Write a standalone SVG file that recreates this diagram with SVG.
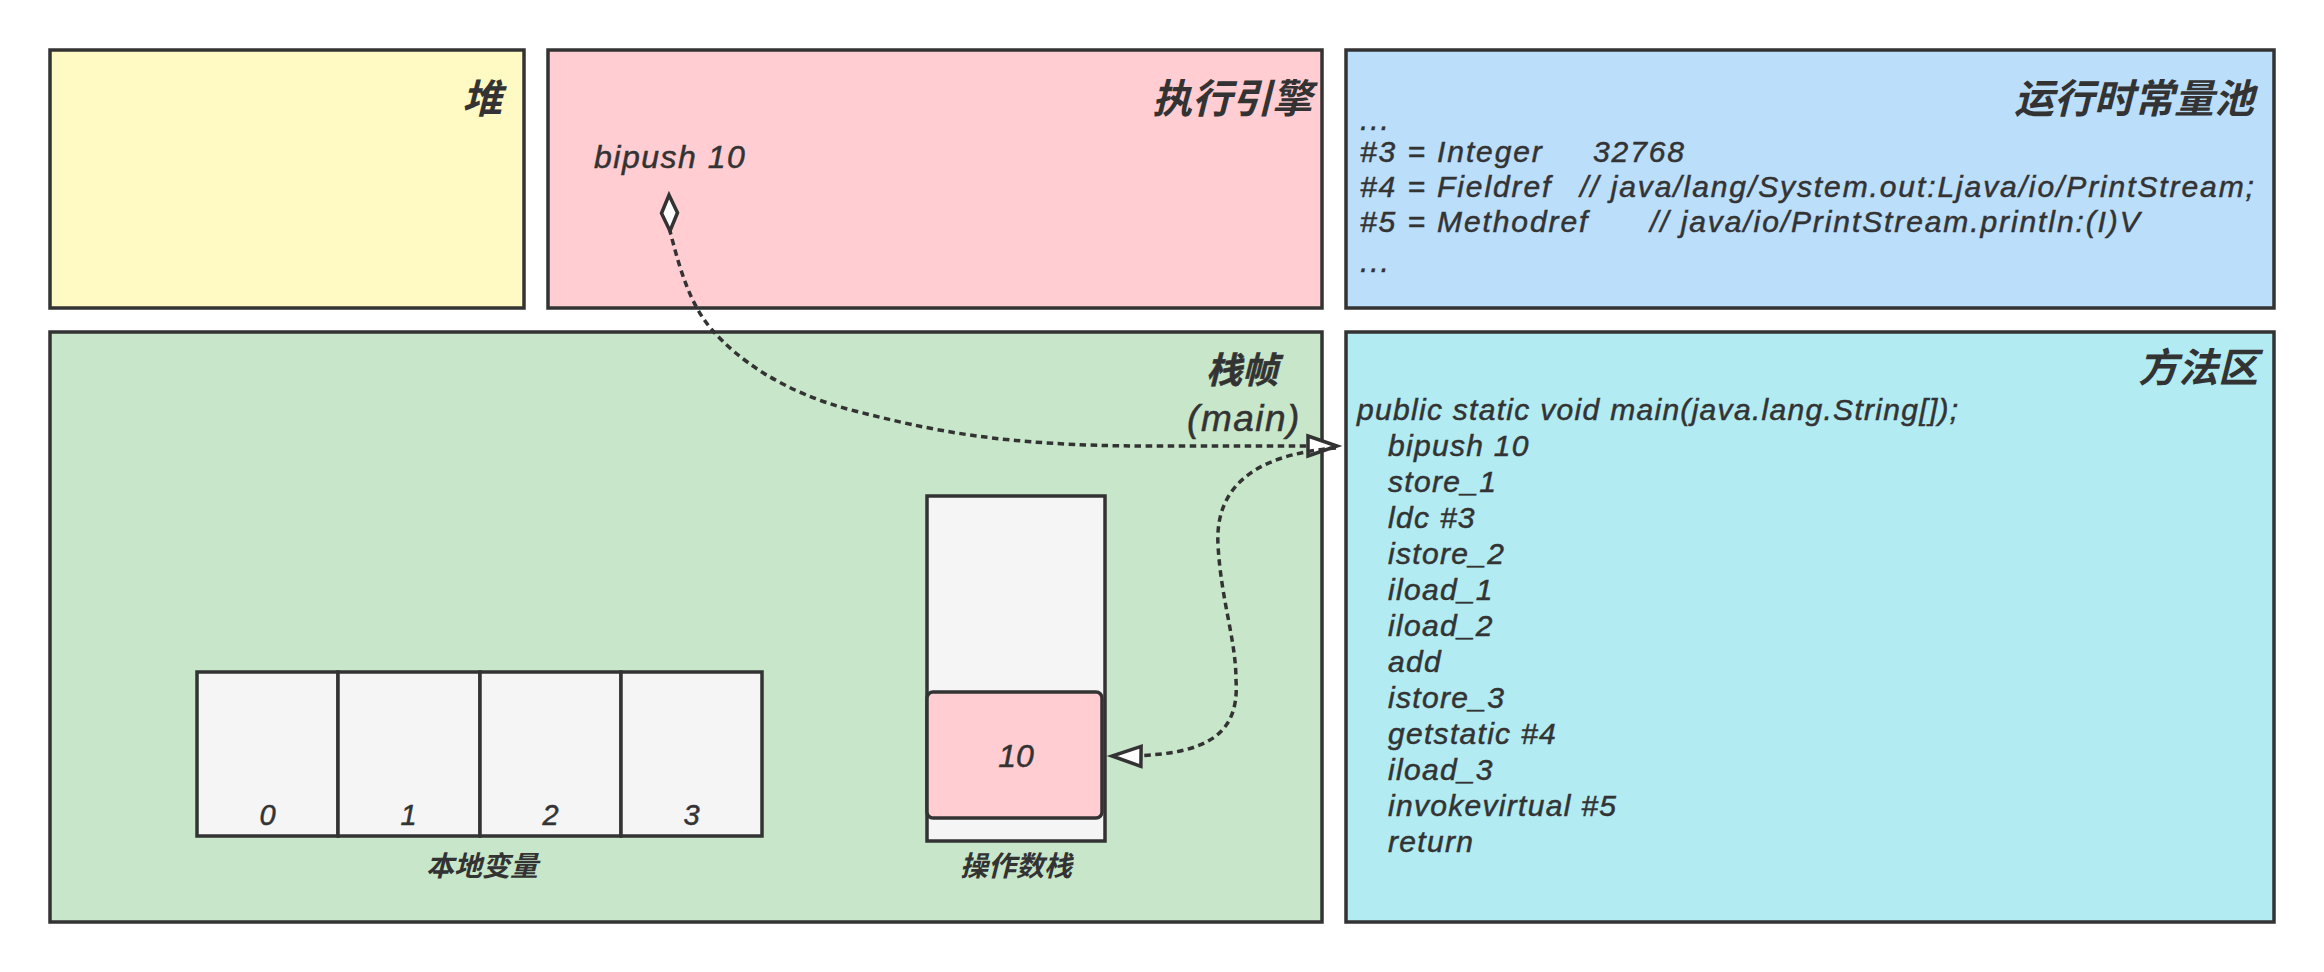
<svg xmlns="http://www.w3.org/2000/svg" width="2324" height="972" viewBox="0 0 2324 972">
  <style>
    .box { stroke: #333333; stroke-width: 3.5; }
    .t { font-family: "Liberation Sans", "Noto Sans CJK SC", sans-serif; font-style: italic; fill: #333333; stroke: #333333; stroke-width: 0.5; }
    .title { font-size: 40px; font-weight: bold; text-anchor: end; stroke-width: 0; }
    .body { font-size: 30px; letter-spacing: 1.3px; }
    .pool { font-size: 30px; letter-spacing: 1.9px; }
    .lbl { font-size: 28px; font-weight: bold; text-anchor: middle; stroke-width: 0; }
    .num { font-size: 29px; text-anchor: middle; letter-spacing: 1px; }
    .conn { fill: none; stroke: #333333; stroke-width: 3.5; stroke-dasharray: 6.5 4.5; }
  </style>
  <defs>
    <marker id="diamond" markerUnits="userSpaceOnUse" markerWidth="40" markerHeight="24" viewBox="-2 -12 40 24" refX="0" refY="0" orient="auto" overflow="visible">
      <path d="M0,0 L18,-8 L36,0 L18,8 Z" fill="#ffffff" stroke="#333333" stroke-width="3.5"/>
    </marker>
    <marker id="openArrow" markerUnits="userSpaceOnUse" markerWidth="34" markerHeight="26" viewBox="-3 -13 34 26" refX="29" refY="0" orient="auto" overflow="visible">
      <path d="M0,-10 L29,0 L0,10 Z" fill="#ffffff" stroke="#333333" stroke-width="3.5" stroke-linejoin="miter"/>
    </marker>
  </defs>

  <rect width="2324" height="972" fill="#ffffff"/>

  <g id="heap">
    <rect class="box" x="50" y="50" width="474" height="258" fill="#FFF9C4"/>
    <text class="t title" x="502" y="113">堆</text>
  </g>

  <g id="execution-engine">
    <rect class="box" x="548" y="50" width="774" height="258" fill="#FFCDD2"/>
    <text class="t title" x="1312" y="113">执行引擎</text>
    <text class="t" x="594" y="168" font-size="32" letter-spacing="1.5">bipush 10</text>
  </g>

  <g id="runtime-constant-pool">
    <rect class="box" x="1346" y="50" width="928" height="258" fill="#BBDEFB"/>
    <text class="t title" x="2254" y="113">运行时常量池</text>
    <text class="t pool" x="1360" y="130">...</text>
    <text class="t pool" y="162"><tspan x="1360">#3 = Integer</tspan><tspan x="1593">32768</tspan></text>
    <text class="t pool" y="197"><tspan x="1360">#4 = Fieldref</tspan><tspan x="1580">// java/lang/System.out:Ljava/io/PrintStream;</tspan></text>
    <text class="t pool" y="232"><tspan x="1360">#5 = Methodref</tspan><tspan x="1650">// java/io/PrintStream.println:(I)V</tspan></text>
    <text class="t pool" x="1360" y="272">...</text>
  </g>

  <g id="stack-frame">
    <rect class="box" x="50" y="332" width="1272" height="590" fill="#C8E6C9"/>
    <text class="t" font-size="36" font-weight="bold" stroke-width="0" text-anchor="middle" x="1242" y="383">栈帧</text>
    <text class="t" font-size="37" letter-spacing="1.5" text-anchor="middle" x="1244" y="431">(main)</text>
  </g>

  <g id="local-variables">
    <rect class="box" x="197" y="672" width="141" height="164" fill="#F5F5F5"/>
    <rect class="box" x="338" y="672" width="142" height="164" fill="#F5F5F5"/>
    <rect class="box" x="480" y="672" width="141" height="164" fill="#F5F5F5"/>
    <rect class="box" x="621" y="672" width="141" height="164" fill="#F5F5F5"/>
    <text class="t num" x="268" y="825">0</text>
    <text class="t num" x="409" y="825">1</text>
    <text class="t num" x="551" y="825">2</text>
    <text class="t num" x="692" y="825">3</text>
    <text class="t lbl" x="482" y="876">本地变量</text>
  </g>

  <g id="operand-stack">
    <rect class="box" x="927" y="496" width="178" height="345" fill="#F5F5F5"/>
    <text class="t lbl" x="1016" y="876">操作数栈</text>
  </g>

  <g id="stack-top-10">
    <rect class="box" x="927" y="692" width="175" height="126" rx="6" ry="6" fill="#FFCDD2"/>
    <text class="t" font-size="32" text-anchor="middle" x="1016" y="767">10</text>
  </g>

  <g id="method-area">
    <rect class="box" x="1346" y="332" width="928" height="590" fill="#B2EBF2"/>
    <text class="t title" x="2258" y="382">方法区</text>
    <text class="t body" x="1357" y="420">public static void main(java.lang.String[]);</text>
    <text class="t body" x="1388" y="456">bipush 10</text>
    <text class="t body" x="1388" y="492">store_1</text>
    <text class="t body" x="1388" y="528">ldc #3</text>
    <text class="t body" x="1388" y="564">istore_2</text>
    <text class="t body" x="1388" y="600">iload_1</text>
    <text class="t body" x="1388" y="636">iload_2</text>
    <text class="t body" x="1388" y="672">add</text>
    <text class="t body" x="1388" y="708">istore_3</text>
    <text class="t body" x="1388" y="744">getstatic #4</text>
    <text class="t body" x="1388" y="780">iload_3</text>
    <text class="t body" x="1388" y="816">invokevirtual #5</text>
    <text class="t body" x="1388" y="852">return</text>
  </g>

  <g id="connectors">
    <path id="engine-to-method" class="conn" marker-start="url(#diamond)" marker-end="url(#openArrow)"
          d="M 669 195 L 670 231 C 680 270, 690 305, 713 331 C 736 357, 780 392, 855 411 C 930 430, 1000 446, 1150 446 L 1337 446"/>
    <path id="method-to-stack" class="conn" marker-end="url(#openArrow)"
          d="M 1336 448 C 1250 455, 1215 490, 1218 545 S 1236 640, 1236 680 C 1240 740, 1200 757, 1112 756"/>
  </g>
</svg>
